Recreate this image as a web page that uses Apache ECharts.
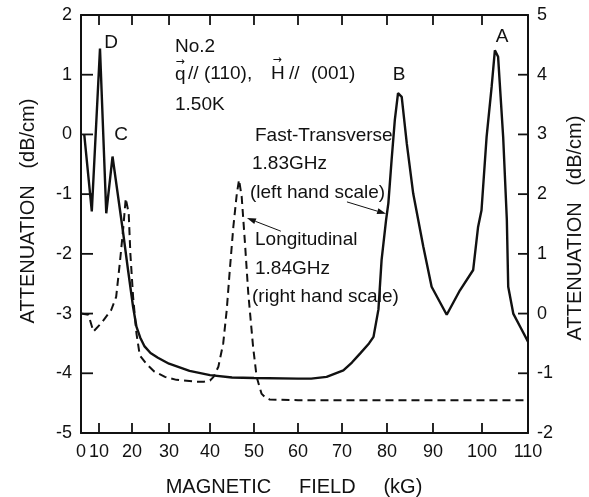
<!DOCTYPE html>
<html>
<head>
<meta charset="utf-8">
<script src="https://cdn.jsdelivr.net/npm/echarts@6/dist/echarts.min.js"></script>
<style>html,body{margin:0;padding:0;background:#fff}#c{width:589px;height:497px}#err{position:absolute;left:90px;top:420px;color:red;font:10px sans-serif}</style>
</head>
<body>
<div id="c"></div>
<div id="err"></div>
<script>
window.onerror = function (m) { document.getElementById('err').textContent = String(m); };

// ---- data (magnetic field in kG, attenuation in dB/cm) ----
const xTickKG = [0, 10, 20, 30, 40, 50, 60, 70, 80, 90, 100, 110];
const leftTicks = [-5, -4, -3, -2, -1, 0, 1, 2];
const rightTicks = [-2, -1, 0, 1, 2, 3, 4, 5];

// Fast-transverse 1.83 GHz (left hand scale)
const transverseField = [1.8, 6.0, 10.3, 12.2, 14.1, 17.2, 18.8, 20.3, 21.2, 22.2, 23.4, 25.0, 27.0, 30.0, 35.0, 40.0, 45.0, 50.0, 60.0, 63.0, 66.5, 70.3, 72.2, 74.0, 76.0, 77.0, 78.1, 78.8, 79.8, 80.3, 81.0, 81.7, 82.4, 83.2, 84.3, 85.7, 87.9, 89.7, 92.8, 95.5, 98.2, 99.2, 99.9, 101.0, 102.1, 102.8, 103.5, 104.6, 105.4, 105.7, 106.8, 108.3, 110.0];
const transverseAtt = [0.00, -1.29, 1.44, -1.32, -0.37, -1.60, -2.27, -2.89, -3.22, -3.40, -3.55, -3.66, -3.74, -3.84, -3.96, -4.03, -4.07, -4.08, -4.09, -4.09, -4.06, -3.95, -3.82, -3.67, -3.50, -3.39, -2.93, -2.10, -1.43, -1.15, -0.43, 0.24, 0.69, 0.63, -0.15, -0.99, -1.88, -2.55, -3.02, -2.61, -2.27, -1.55, -1.27, -0.04, 0.80, 1.41, 1.30, -0.04, -1.43, -2.55, -3.00, -3.22, -3.47];

// Longitudinal 1.84 GHz (right hand scale)
const longField = [0, 4.1, 6.9, 10.7, 13.7, 15.2, 16.3, 17.3, 18.1, 19.0, 19.5, 20.3, 21.2, 22.1, 24.0, 26.0, 28.9, 31.8, 36.8, 38.6, 40.0, 40.8, 41.9, 43.0, 43.8, 44.5, 45.3, 46.1, 46.6, 47.2, 47.95, 48.7, 49.8, 50.6, 51.7, 52.5, 53.6, 60, 70, 80, 90, 100, 110];
const longAtt = [0.00, -0.02, -0.30, -0.16, 0.06, 0.28, 0.84, 1.40, 1.93, 1.68, 1.01, 0.28, -0.33, -0.70, -0.85, -0.97, -1.06, -1.11, -1.14, -1.14, -1.12, -1.06, -0.89, -0.50, 0.06, 0.73, 1.45, 2.01, 2.24, 1.96, 1.18, 0.34, -0.56, -1.06, -1.34, -1.40, -1.44, -1.45, -1.45, -1.45, -1.45, -1.45, -1.45];

// annotation arrows: [from field, from value, to field, to value]
const arrowLeftScale = [[71.1, -1.13, 79.8, -1.33]];
const arrowRightScale = [[56.1, 1.38, 48.4, 1.60]];

// ---- axis scale: the field axis of the original is compressed at low field ----
const xTickScale = [0, 4.43, 12.55, 21.66, 31.75, 42.57, 53.40, 64.23, 75.30, 86.62, 98.68, 110];
function toAxis(kg) {
  for (let i = 0; i < xTickKG.length - 1; i++) {
    if (kg <= xTickKG[i + 1] || i === xTickKG.length - 2) {
      const t = (kg - xTickKG[i]) / (xTickKG[i + 1] - xTickKG[i]);
      return xTickScale[i] + t * (xTickScale[i + 1] - xTickScale[i]);
    }
  }
}

const FONT = '"Liberation Sans", Arial, sans-serif';
const black = '#111';
const X_MIN = 0, X_MAX = 110;
const L_MIN = leftTicks[0], L_MAX = leftTicks[leftTicks.length - 1];
const R_MIN = rightTicks[0], R_MAX = rightTicks[rightTicks.length - 1];

const chart = echarts.init(document.getElementById('c'), null, {renderer: 'canvas'});

function axisLine() { return {show: true, onZero: false, lineStyle: {color: black, width: 2}}; }

function txt(text, x, y, size, align) {
  return {type: 'text', x: x, y: y, style: {text: text, fontSize: size || 19, fontFamily: FONT, fill: black, align: align || 'left', verticalAlign: 'middle'}};
}
function tickLine(x1, y1, x2, y2) {
  return {type: 'line', shape: {x1: x1, y1: y1, x2: x2, y2: y2}, style: {stroke: black, lineWidth: 1.8}};
}

// field ticks (bottom + top) and their labels
function renderFieldTicks(params, api) {
  const u = api.value(0), idx = params.dataIndex;
  const b = api.coord([u, L_MIN]);
  const t = api.coord([u, L_MAX]);
  const kids = [{type: 'text', x: b[0], y: b[1] + 10,
    style: {text: String(api.value(1)), fontSize: 18, fontFamily: FONT, fill: black, align: 'center', verticalAlign: 'top'}}];
  if (idx > 0 && idx < xTickScale.length - 1) {
    kids.push(tickLine(b[0], b[1], b[0], b[1] - 10));
    kids.push(tickLine(t[0], t[1], t[0], t[1] + 10));
  }
  return {type: 'group', children: kids};
}
function renderLeftTicks(params, api) {
  const p = api.coord([X_MIN, api.value(0)]);
  return tickLine(p[0], p[1], p[0] + 12, p[1]);
}
function renderRightTicks(params, api) {
  const p = api.coord([X_MAX, api.value(0)]);
  return tickLine(p[0], p[1], p[0] - 10, p[1]);
}
function renderArrow(params, api) {
  const a = api.coord([toAxis(api.value(0)), api.value(1)]);
  const b = api.coord([toAxis(api.value(2)), api.value(3)]);
  const ang = Math.atan2(b[1] - a[1], b[0] - a[0]);
  const L = 9, W = 3;
  const bx = b[0] - L * Math.cos(ang), by = b[1] - L * Math.sin(ang);
  const nx = -Math.sin(ang) * W, ny = Math.cos(ang) * W;
  return {type: 'group', children: [
    {type: 'line', shape: {x1: a[0], y1: a[1], x2: bx, y2: by}, style: {stroke: black, lineWidth: 1}},
    {type: 'polygon', shape: {points: [[b[0], b[1]], [bx + nx, by + ny], [bx - nx, by - ny]]}, style: {fill: black}}
  ]};
}

const option = {
  animation: false,
  backgroundColor: '#fff',
  grid: {left: 81, right: 61, top: 15, bottom: 64},
  xAxis: [
    {type: 'value', min: X_MIN, max: X_MAX, axisLine: axisLine(), axisTick: {show: false},
     axisLabel: {show: false}, splitLine: {show: false}},
    {type: 'value', min: X_MIN, max: X_MAX, position: 'top', axisLine: axisLine(), axisTick: {show: false},
     axisLabel: {show: false}, splitLine: {show: false}}
  ],
  yAxis: [
    {type: 'value', min: L_MIN, max: L_MAX, interval: 1,
     axisLine: axisLine(), axisTick: {show: false},
     axisLabel: {fontSize: 18, fontFamily: FONT, color: black, margin: 9},
     splitLine: {show: false}},
    {type: 'value', min: R_MIN, max: R_MAX, interval: 1, position: 'right',
     axisLine: axisLine(), axisTick: {show: false},
     axisLabel: {fontSize: 18, fontFamily: FONT, color: black, margin: 9},
     splitLine: {show: false}}
  ],
  series: [
    {type: 'line', name: 'Fast-Transverse', xAxisIndex: 0, yAxisIndex: 0, showSymbol: false, symbol: 'none',
     data: transverseField.map((f, i) => [toAxis(f), transverseAtt[i]]),
     lineStyle: {color: black, width: 2.4}, z: 3},
    {type: 'line', name: 'Longitudinal', xAxisIndex: 0, yAxisIndex: 1, showSymbol: false, symbol: 'none',
     data: longField.map((f, i) => [toAxis(f), longAtt[i]]),
     lineStyle: {color: black, width: 2, type: [8, 5]}, z: 2},
    {type: 'custom', xAxisIndex: 0, yAxisIndex: 0, clip: false, silent: true, z: 5,
     data: xTickScale.map((u, i) => [u, xTickKG[i]]), renderItem: renderFieldTicks},
    {type: 'custom', xAxisIndex: 0, yAxisIndex: 0, clip: false, silent: true, z: 5,
     data: leftTicks.slice(1, -1).map(v => [v]), renderItem: renderLeftTicks},
    {type: 'custom', xAxisIndex: 0, yAxisIndex: 1, clip: false, silent: true, z: 5,
     data: rightTicks.slice(1, -1).map(v => [v]), renderItem: renderRightTicks},
    {type: 'custom', xAxisIndex: 0, yAxisIndex: 0, clip: false, silent: true, z: 5,
     data: arrowLeftScale, renderItem: renderArrow},
    {type: 'custom', xAxisIndex: 0, yAxisIndex: 1, clip: false, silent: true, z: 5,
     data: arrowRightScale, renderItem: renderArrow}
  ],
  graphic: [
    txt('D', 111, 43, 19, 'center'),
    txt('C', 121, 135, 19, 'center'),
    txt('B', 399, 75, 19, 'center'),
    txt('A', 502, 37, 19, 'center'),
    txt('No.2', 175, 47),
    txt('q', 175, 75), txt('//', 188, 74), txt('(110),', 204, 74),
    txt('H', 271, 74), txt('//', 289, 74), txt('(001)', 311, 74),
    {type: 'text', x: 180, y: 62, style: {text: '\u2192', fontSize: 11, fontFamily: '"DejaVu Sans"', fill: black, align: 'center', verticalAlign: 'middle'}},
    {type: 'text', x: 277, y: 60, style: {text: '\u2192', fontSize: 11, fontFamily: '"DejaVu Sans"', fill: black, align: 'center', verticalAlign: 'middle'}},
    txt('1.50K', 175, 105),
    txt('Fast-Transverse', 255, 136),
    txt('1.83GHz', 252, 164),
    txt('(left hand scale)', 250, 193),
    txt('Longitudinal', 255, 240),
    txt('1.84GHz', 255, 269),
    txt('(right hand scale)', 252, 297),
    {type: 'text', x: 294, y: 487, style: {text: 'MAGNETIC     FIELD     (kG)', fontSize: 20, fontFamily: FONT, fill: black, align: 'center', verticalAlign: 'middle'}},
    {type: 'text', x: 28, y: 211, rotation: Math.PI / 2, style: {text: 'ATTENUATION   (dB/cm)', fontSize: 20, fontFamily: FONT, fill: black, align: 'center', verticalAlign: 'middle'}},
    {type: 'text', x: 575, y: 228, rotation: Math.PI / 2, style: {text: 'ATTENUATION   (dB/cm)', fontSize: 20, fontFamily: FONT, fill: black, align: 'center', verticalAlign: 'middle'}}
  ]
};
try {
  chart.setOption(option);
} catch (e) {
  document.getElementById('err').textContent = 'ERR: ' + e.message;
}
</script>
</body>
</html>
